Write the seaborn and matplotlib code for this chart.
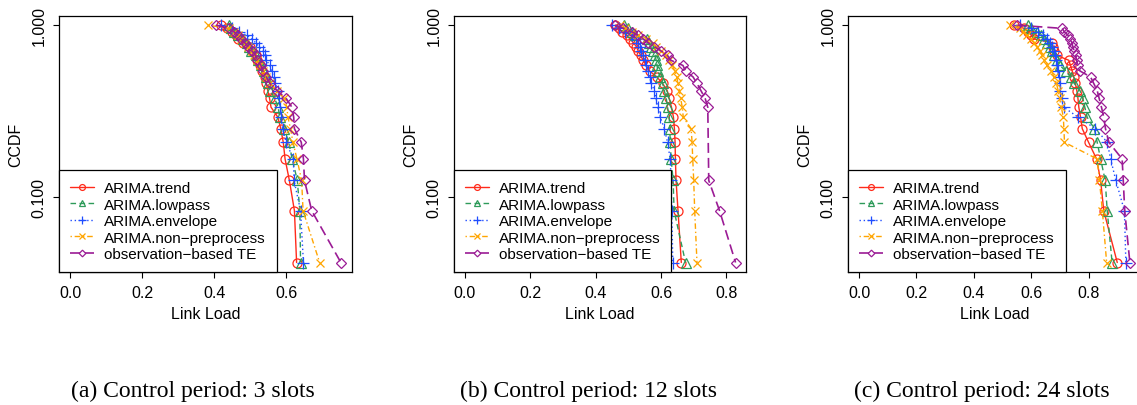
import numpy as np
import pandas as pd
import matplotlib
matplotlib.use("Agg")
import matplotlib.pyplot as plt
import seaborn as sns
from matplotlib.ticker import FixedLocator, NullLocator

# ---------------- data (link loads, 24 samples per method) ----------------
series_names = ["ARIMA.trend", "ARIMA.lowpass", "ARIMA.envelope",
                "ARIMA.non\u2212preprocess", "observation\u2212based TE"]

trend_a = [0.420, 0.435, 0.450, 0.460, 0.466, 0.480, 0.500, 0.505, 0.515, 0.520, 0.528, 0.532,
           0.540, 0.545, 0.549, 0.554, 0.558, 0.577, 0.585, 0.592, 0.597, 0.609, 0.623, 0.629]
lowpass_a = [0.442, 0.447, 0.455, 0.466, 0.480, 0.490, 0.497, 0.503, 0.515, 0.523, 0.530, 0.538,
             0.545, 0.550, 0.556, 0.568, 0.578, 0.582, 0.595, 0.607, 0.617, 0.631, 0.638, 0.640]
envelope_a = [0.419, 0.450, 0.470, 0.490, 0.505, 0.515, 0.525, 0.535, 0.540, 0.545, 0.555, 0.560,
              0.565, 0.570, 0.578, 0.580, 0.584, 0.587, 0.590, 0.600, 0.620, 0.622, 0.640, 0.648]
nonpre_a = [0.384, 0.440, 0.455, 0.465, 0.475, 0.485, 0.495, 0.505, 0.512, 0.520, 0.528, 0.535,
            0.545, 0.555, 0.575, 0.595, 0.602, 0.605, 0.612, 0.619, 0.630, 0.643, 0.647, 0.693]
obs_a = [0.405, 0.440, 0.455, 0.465, 0.475, 0.485, 0.495, 0.505, 0.515, 0.520, 0.530, 0.535,
         0.545, 0.555, 0.575, 0.600, 0.616, 0.621, 0.623, 0.642, 0.648, 0.651, 0.671, 0.752]

trend_b = [0.460, 0.470, 0.480, 0.495, 0.505, 0.515, 0.525, 0.530, 0.538, 0.545, 0.555, 0.565,
           0.587, 0.605, 0.619, 0.625, 0.632, 0.638, 0.641, 0.643, 0.644, 0.646, 0.652, 0.662]
lowpass_b = [0.487, 0.500, 0.510, 0.520, 0.556, 0.563, 0.568, 0.575, 0.582, 0.585, 0.588, 0.590,
             0.598, 0.605, 0.610, 0.616, 0.620, 0.625, 0.627, 0.628, 0.631, 0.637, 0.640, 0.675]
envelope_b = [0.450, 0.470, 0.490, 0.510, 0.525, 0.530, 0.535, 0.540, 0.545, 0.550, 0.555, 0.560,
              0.565, 0.570, 0.580, 0.585, 0.590, 0.598, 0.610, 0.620, 0.628, 0.631, 0.633, 0.636]
nonpre_b = [0.475, 0.490, 0.510, 0.530, 0.555, 0.575, 0.585, 0.600, 0.615, 0.625, 0.635, 0.642,
            0.648, 0.652, 0.656, 0.660, 0.665, 0.668, 0.692, 0.695, 0.697, 0.700, 0.703, 0.710]
obs_b = [0.460, 0.485, 0.510, 0.530, 0.545, 0.560, 0.580, 0.600, 0.620, 0.630, 0.667, 0.675,
         0.698, 0.710, 0.722, 0.735, 0.743, 0.743, 0.743, 0.743, 0.743, 0.746, 0.779, 0.828]

trend_c = [0.540, 0.575, 0.590, 0.600, 0.608, 0.672, 0.677, 0.680, 0.690, 0.731, 0.737, 0.743,
           0.748, 0.754, 0.759, 0.763, 0.766, 0.772, 0.778, 0.800, 0.828, 0.842, 0.853, 0.900]
lowpass_c = [0.590, 0.600, 0.620, 0.635, 0.645, 0.655, 0.665, 0.673, 0.680, 0.690, 0.700, 0.720,
             0.737, 0.750, 0.770, 0.780, 0.787, 0.795, 0.820, 0.830, 0.842, 0.858, 0.865, 0.882]
envelope_c = [0.560, 0.600, 0.625, 0.640, 0.655, 0.665, 0.672, 0.678, 0.684, 0.687, 0.690, 0.692,
              0.696, 0.699, 0.702, 0.706, 0.713, 0.764, 0.824, 0.865, 0.877, 0.895, 0.925, 0.930]
nonpre_c = [0.525, 0.560, 0.573, 0.585, 0.600, 0.610, 0.620, 0.632, 0.638, 0.645, 0.655, 0.670,
            0.680, 0.688, 0.694, 0.699, 0.705, 0.712, 0.714, 0.716, 0.830, 0.838, 0.848, 0.863]
obs_c = [0.552, 0.708, 0.715, 0.728, 0.735, 0.742, 0.745, 0.750, 0.755, 0.758, 0.762, 0.770,
         0.807, 0.818, 0.830, 0.837, 0.845, 0.853, 0.859, 0.871, 0.917, 0.921, 0.926, 0.944]

panels = [
    [trend_a, lowpass_a, envelope_a, nonpre_a, obs_a],
    [trend_b, lowpass_b, envelope_b, nonpre_b, obs_b],
    [trend_c, lowpass_c, envelope_c, nonpre_c, obs_c],
]
captions = ["(a) Control period: 3 slots", "(b) Control period: 12 slots",
            "(c) Control period: 24 slots"]
x_ticks = [0.0, 0.2, 0.4, 0.6, 0.8]
y_ticks = [0.1, 1.0]
y_tick_labels = ["0.100", "1.000"]

# ---------------- style ----------------
colors = ["#FF2A1A", "#2E9B5A", "#1F4DFF", "#FFA500", "#9B1B95"]
markers = ["o", "^", "+", "x", "D"]
msizes = [6.5, 6.5, 8.0, 6.0, 5.2]
lstyles = ["-", (0, (4, 2.5)), (0, (1, 2)), (0, (1, 2, 4, 2)), (0, (6, 3))]
lwidths = [1.0, 1.0, 1.0, 1.0, 1.2]

sns.set_theme(style="ticks")
plt.rcParams["font.family"] = ["Liberation Sans", "DejaVu Sans"]
plt.rcParams["axes.unicode_minus"] = True


def ccdf(values):
    v = np.asarray(values, dtype=float)
    u = np.unique(v)
    y = np.array([(v >= x).sum() for x in u]) / len(v)
    return pd.DataFrame({"load": u, "ccdf": y})


W, H = 1137, 406
fig = plt.figure(figsize=(W / 100, H / 100), dpi=100)
fig.patch.set_facecolor("white")

ax_lefts = [59.3, 454.0, 848.3]
ax_w, ax_top, ax_bot = 292.4, 16.7, 273.0
cap_x = [193, 588, 982]

for p, data in enumerate(panels):
    ax = fig.add_axes([ax_lefts[p] / W, (H - ax_bot) / H, ax_w / W, (ax_bot - ax_top) / H])
    ax.set_facecolor("white")
    for i, vals in enumerate(data):
        df = ccdf(vals)
        sns.lineplot(data=df, x="load", y="ccdf", ax=ax, sort=False, estimator=None,
                     color=colors[i], linestyle=lstyles[i], linewidth=lwidths[i],
                     marker=markers[i], markersize=msizes[i], markerfacecolor="none",
                     markeredgecolor=colors[i], markeredgewidth=0.9,
                     label=series_names[i], legend=False)
    ax.set_yscale("log")
    n = len(data[0])
    lo, hi = np.log10(1.0 / n), 0.0
    ext = 0.04 * (hi - lo)
    ax.set_ylim(10 ** (lo - ext), 10 ** (hi + ext))
    xmax = max(max(v) for v in data)
    ax.set_xlim(-0.04 * xmax, xmax * 1.04)

    ax.xaxis.set_major_locator(FixedLocator(x_ticks))
    ax.set_xticklabels([f"{t:.1f}" for t in x_ticks])
    ax.yaxis.set_major_locator(FixedLocator(y_ticks))
    ax.yaxis.set_minor_locator(NullLocator())
    ax.set_yticklabels(y_tick_labels)
    ax.tick_params(axis="both", which="major", direction="out", length=4, width=0.8,
                   color="black", labelsize=11.5, labelcolor="black", pad=5)
    ax.tick_params(axis="y", labelrotation=90)
    for lab in ax.get_yticklabels():
        lab.set_verticalalignment("center")
    for s in ax.spines.values():
        s.set_visible(True)
        s.set_color("black")
        s.set_linewidth(0.9)

    ax.set_xlabel("Link Load", fontsize=11.5, color="black")
    ax.xaxis.set_label_coords(0.5, -(314.3 - ax_bot) / (ax_bot - ax_top))
    ax.xaxis.label.set_verticalalignment("center")
    ax.set_ylabel("CCDF", fontsize=11.5, color="black")
    ax.yaxis.set_label_coords(-43.6 / ax_w, 0.5)
    ax.yaxis.label.set_verticalalignment("center")

    leg = ax.legend(loc="lower left", bbox_to_anchor=(0, 0), borderaxespad=0,
                    frameon=True, fancybox=False, framealpha=1, edgecolor="black",
                    fontsize=11, handlelength=1.6, handletextpad=0.65, borderpad=0.7,
                    labelspacing=0.17, markerscale=0.65)
    leg.get_frame().set_linewidth(0.9)
    for t in leg.get_texts():
        t.set_color("black")

    fig.text(cap_x[p] / W, (H - 391.7) / H, captions[p], ha="center", va="center",
             fontsize=17, family=["Liberation Serif", "DejaVu Serif"], color="black")

fig.savefig("out.png", dpi=100, facecolor="white")
